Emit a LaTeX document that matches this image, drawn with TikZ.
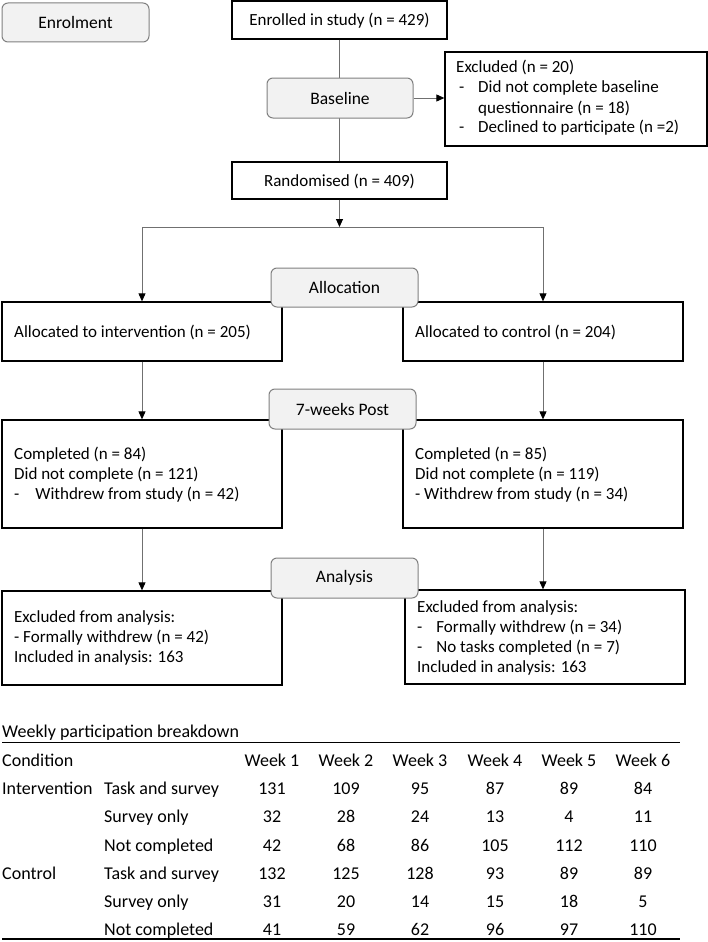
\documentclass[tikz,border=0pt]{standalone}
\usepackage{fontspec}
\setmainfont{Carlito}
\usetikzlibrary{arrows.meta}
\definecolor{stagefill}{HTML}{F2F2F2}
\definecolor{stageline}{HTML}{808080}
\definecolor{conn}{HTML}{707070}
\tikzset{
  box/.style={draw=black, line width=1.3pt, rectangle, inner sep=0pt},
  stage/.style={draw=stageline, fill=stagefill, line width=1pt, rounded corners=6pt, inner sep=0pt, minimum width=147pt, minimum height=39pt, font=\fontsize{17.5}{20}\selectfont},
  txt/.style={inner sep=0pt, anchor=base west, font=\fontsize{17}{20}\selectfont},
  ctxt/.style={inner sep=0pt, font=\fontsize{17}{20}\selectfont},
  ttxt/.style={inner sep=0pt, anchor=base west, font=\fontsize{18}{20}\selectfont},
  num/.style={inner sep=0pt, anchor=base, font=\fontsize{18}{20}\selectfont},
  link/.style={draw=conn, line width=0.9pt},
  arr/.style={link, -{Triangle[length=8pt,width=7pt,fill=black,color=black]}},
}
\begin{document}
\begin{tikzpicture}[x=1pt,y=-1pt]
\useasboundingbox (0,0) rectangle (708,942);
% main boxes
\node[box, minimum width=215pt, minimum height=38pt] (enrolled) at (339.5,20) {};
\node[ctxt] (enrolledt) at (339.5,21) {Enrolled in study (n = 429)};
\node[box, minimum width=215pt, minimum height=37pt] (random) at (339.5,180.5) {};
\node[ctxt] (randomt) at (339.5,181) {Randomised (n = 409)};
\node[box, minimum width=262pt, minimum height=94pt] (excl) at (576,99) {};
\node[txt] (exclt) at (456,73) {\begin{tabular}[t]{@{}l@{\hspace{14pt}}l@{}}
\multicolumn{2}{@{}l@{}}{Excluded (n = 20)}\\
\,- & Did not complete baseline\\
 & questionnaire (n = 18)\\
\,- & Declined to participate (n =2)
\end{tabular}};
\node[box, minimum width=280pt, minimum height=59pt] (interv) at (142,331.5) {};
\node[txt] (intervt) at (14,337) {Allocated to intervention (n = 205)};
\node[box, minimum width=280pt, minimum height=59pt] (control) at (543,331.5) {};
\node[txt] (controlt) at (415,337) {Allocated to control (n = 204)};
\node[box, minimum width=280pt, minimum height=108pt] (compl) at (142,474) {};
\node[txt] (complt) at (14,459) {\begin{tabular}[t]{@{}l@{\hspace{16pt}}l@{}}
\multicolumn{2}{@{}l@{}}{Completed (n = 84)}\\
\multicolumn{2}{@{}l@{}}{Did not complete (n = 121)}\\
- & Withdrew from study (n = 42)
\end{tabular}};
\node[box, minimum width=280pt, minimum height=108pt] (comcr) at (543,474) {};
\node[txt] (comcrt) at (415,459) {\begin{tabular}[t]{@{}l@{}}
Completed (n = 85)\\
Did not complete (n = 119)\\
- Withdrew from study (n = 34)
\end{tabular}};
\node[box, minimum width=280pt, minimum height=94pt] (anl) at (142,638) {};
\node[txt] (anlt) at (14,622) {\begin{tabular}[t]{@{}l@{}}
Excluded from analysis:\\
- Formally withdrew (n = 42)\\
Included in analysis: 163
\end{tabular}};
\node[box, minimum width=280pt, minimum height=94pt] (anr) at (545,637) {};
\node[txt] (anrt) at (417,612) {\begin{tabular}[t]{@{}l@{\hspace{14pt}}l@{}}
\multicolumn{2}{@{}l@{}}{Excluded from analysis:}\\
- & Formally withdrew (n = 34)\\
- & No tasks completed (n = 7)\\
\multicolumn{2}{@{}l@{}}{Included in analysis: 163}
\end{tabular}};
% connectors
\coordinate (split) at (339.5,227);
\coordinate (splitl) at (142,227);
\coordinate (splitr) at (543,227);
\draw[link] (enrolled.south) -- (random.north);
\draw[arr] (random.south) -- (split);
\draw[link] (splitl) -- (splitr);
\draw[arr] (splitl) -- (interv.north);
\draw[arr] (splitr) -- (control.north);
\draw[arr] (interv.south) -- (compl.north);
\draw[arr] (control.south) -- (comcr.north);
\draw[arr] (compl.south) -- (anl.north);
\draw[arr] (comcr.south) -- (anr.north-|comcr.south);
% stage boxes
\node[stage] (enrolment) at (75.5,22.5) {Enrolment};
\node[stage, minimum width=146pt, minimum height=40pt] (baseline) at (340,98) {Baseline};
\node[stage] (alloc) at (344.5,287.5) {Allocation};
\node[stage, minimum height=40pt] (post) at (342.5,409) {7-weeks Post};
\node[stage, minimum height=40pt] (analysis) at (344.5,578) {Analysis};
\draw[arr] (baseline.east) -- (baseline.east-|excl.west);
% table
\node[ttxt] (ttitle) at (2,737) {Weekly participation breakdown};
\coordinate (tl1) at (2,742);
\coordinate (tr1) at (680,742);
\coordinate (tl2) at (2,939);
\coordinate (tr2) at (680,939);
\draw[line width=1pt] (tl1) -- (tr1);
\draw[line width=1.3pt] (tl2) -- (tr2);
\node[ttxt] (hcond) at (2,766) {Condition};
\foreach \i/\x in {1/272,2/346,3/420,4/495,5/569,6/643}{
  \node[num] (hw\i) at (\x,766) {Week \i};
}
\node[ttxt] (ci) at (2,794) {Intervention};
\node[ttxt] (cc) at (2,879) {Control};
\foreach \r/\y/\lab in {1/794/Task and survey,2/822/Survey only,3/851/Not completed,4/879/Task and survey,5/907/Survey only,6/935/Not completed}{
  \node[ttxt] (rl\r) at (104,\y) {\lab};
}
\foreach \r/\y/\a/\b/\c/\d/\e/\f in {1/794/131/109/95/87/89/84,2/822/32/28/24/13/4/11,3/851/42/68/86/105/112/110,4/879/132/125/128/93/89/89,5/907/31/20/14/15/18/5,6/935/41/59/62/96/97/110}{
  \node[num] (v\r a) at (272,\y) {\a};
  \node[num] (v\r b) at (346,\y) {\b};
  \node[num] (v\r c) at (420,\y) {\c};
  \node[num] (v\r d) at (495,\y) {\d};
  \node[num] (v\r e) at (569,\y) {\e};
  \node[num] (v\r f) at (643,\y) {\f};
}
\end{tikzpicture}
\end{document}
